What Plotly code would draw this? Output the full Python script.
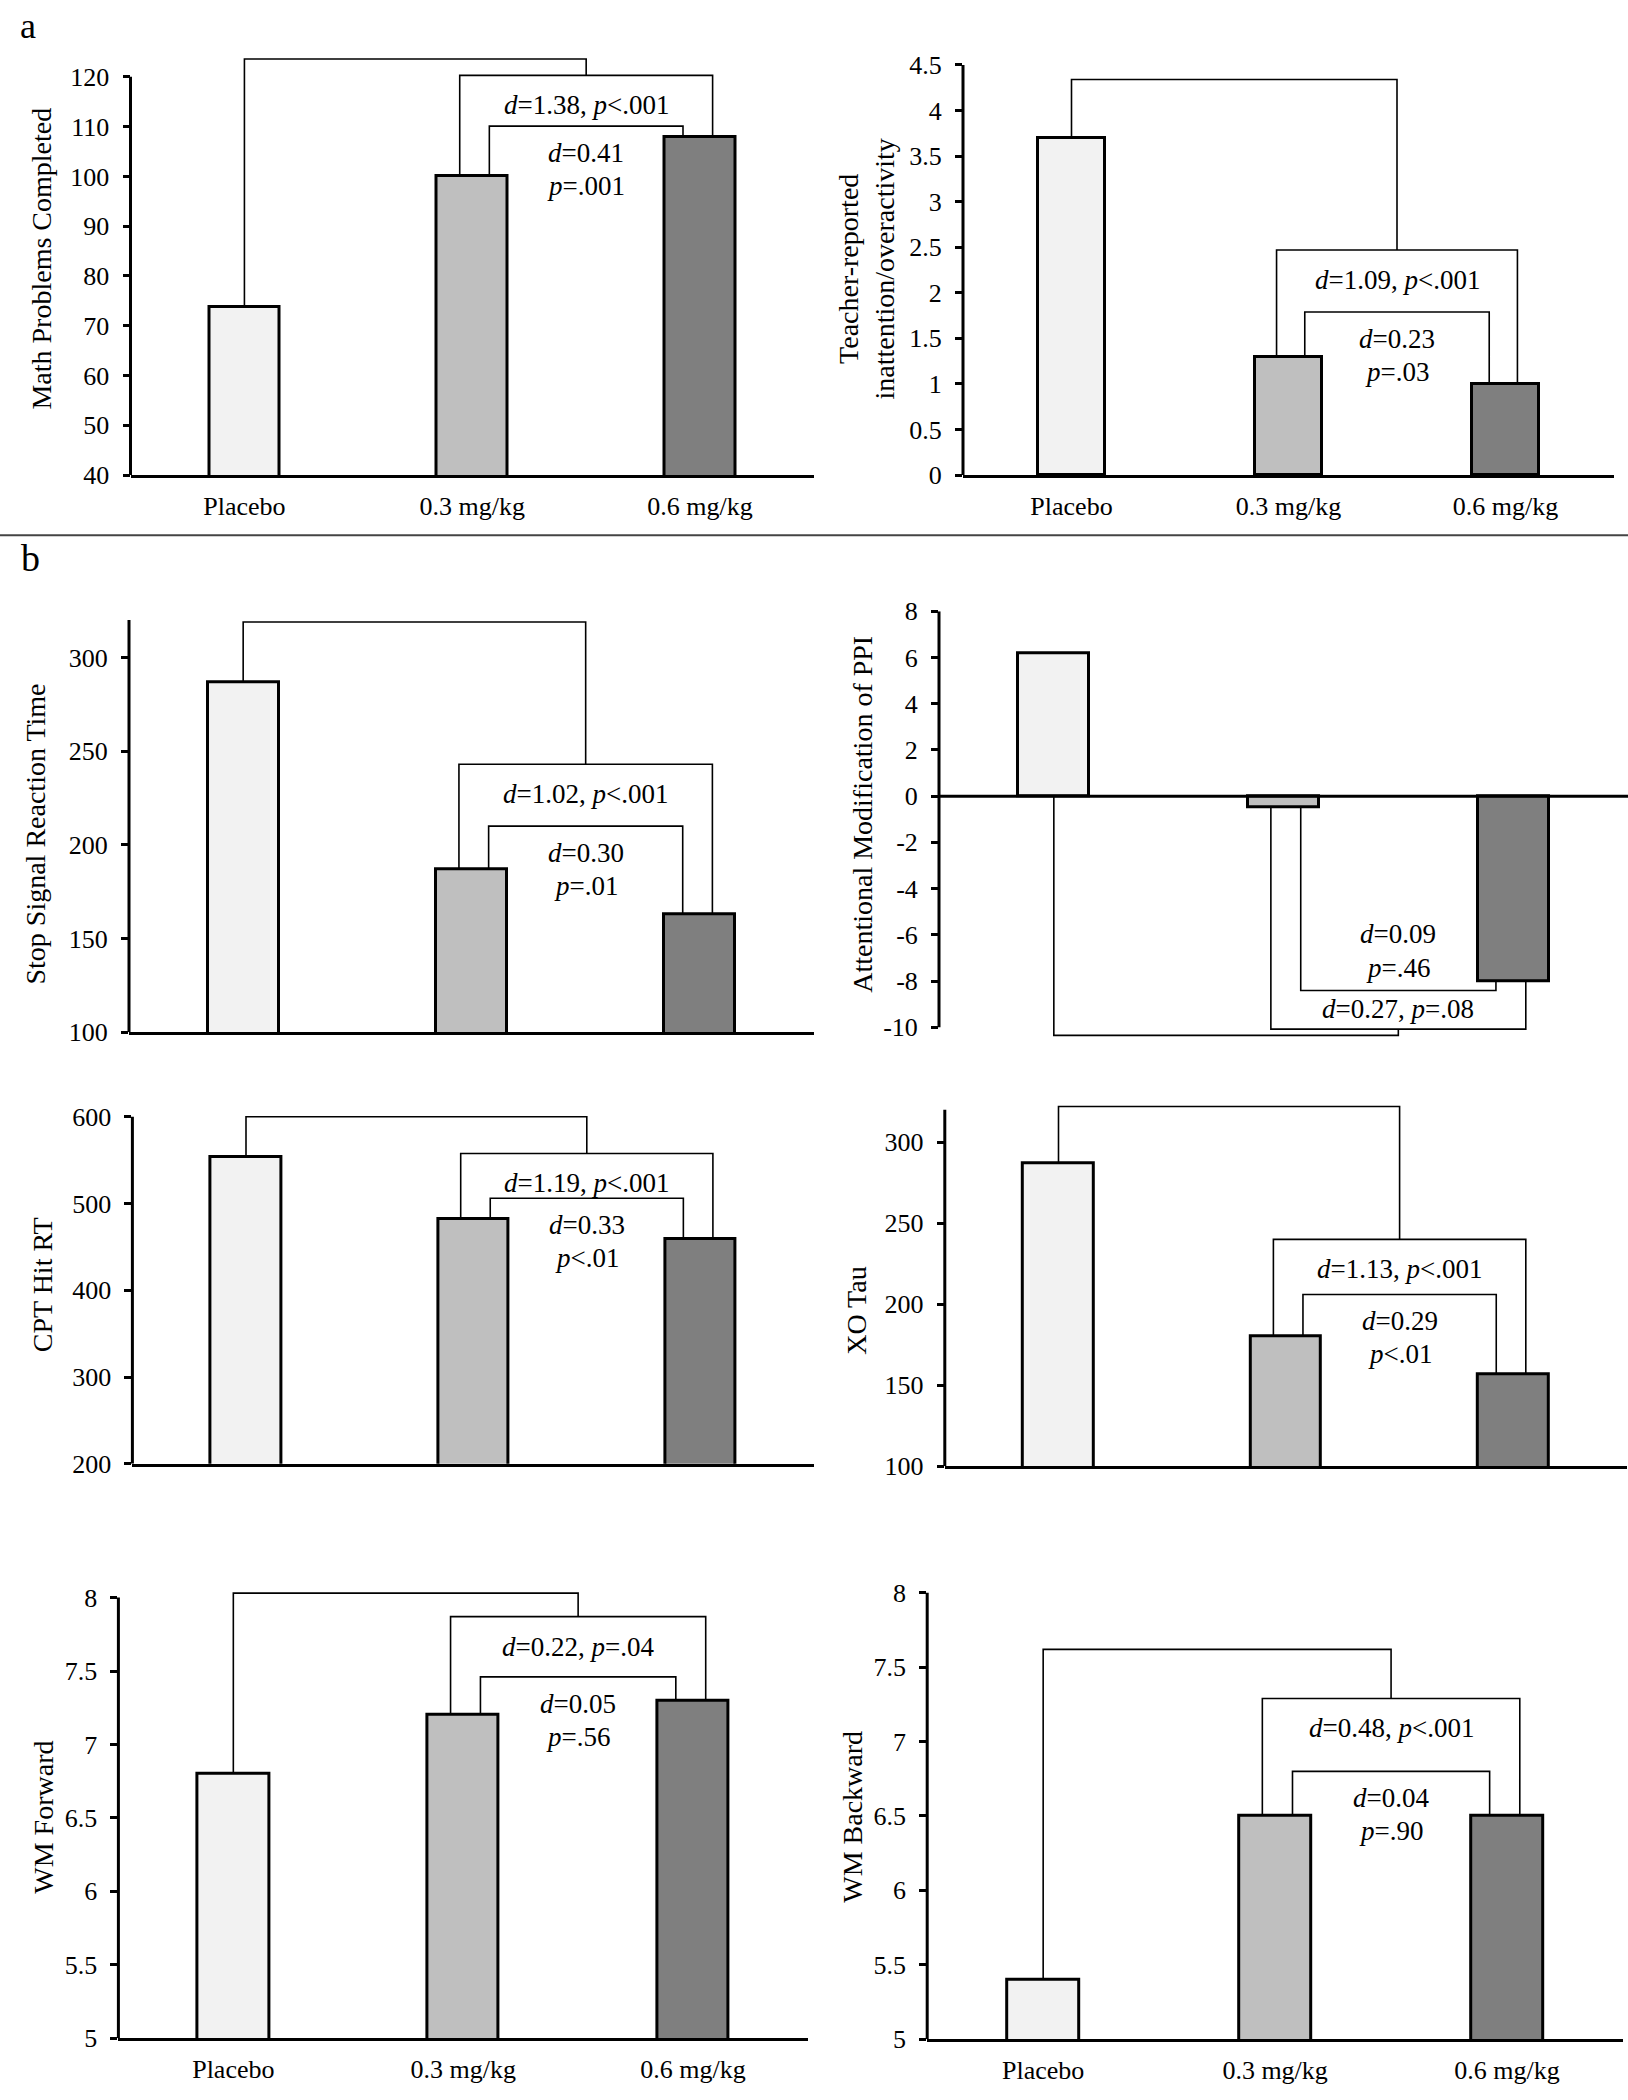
import plotly.graph_objects as go

W, H = 1628, 2100
FONT = "Liberation Serif"

# ---------------- data ----------------
categories = ["Placebo", "0.3 mg/kg", "0.6 mg/kg"]
bar_colors = ["#f2f2f2", "#bfbfbf", "#7f7f7f"]

math_problems = [73.7, 100, 108]
teacher_rating = [3.7, 1.3, 1.0]
ssrt = [287, 187, 163]
ppi_mod = [6.2, -0.5, -8.0]
cpt_hit_rt = [554, 482, 459]
xo_tau = [287, 180, 157]
wm_forward = [6.8, 7.2, 7.3]
wm_backward = [5.4, 6.5, 6.5]

# bracket levels: [placebo-vs-active, 0.3-vs-0.6 outer, inner]
math_brackets = [123.6, 120.3, 110.1]
teacher_brackets = [4.34, 2.47, 1.79]
ssrt_brackets = [319, 243, 210]
ppi_brackets = [-10.35, -10.08, -8.41]
cpt_brackets = [600, 557.6, 506]
xo_brackets = [322, 240, 206]
wmf_brackets = [8.03, 7.87, 7.46]
wmb_brackets = [7.62, 7.29, 6.8]

math_stats = ["<i>d</i>=1.38, <i>p</i>&lt;.001", "<i>d</i>=0.41", "<i>p</i>=.001"]
teacher_stats = ["<i>d</i>=1.09, <i>p</i>&lt;.001", "<i>d</i>=0.23", "<i>p</i>=.03"]
ssrt_stats = ["<i>d</i>=1.02, <i>p</i>&lt;.001", "<i>d</i>=0.30", "<i>p</i>=.01"]
ppi_stats = ["<i>d</i>=0.27, <i>p</i>=.08", "<i>d</i>=0.09", "<i>p</i>=.46"]
cpt_stats = ["<i>d</i>=1.19, <i>p</i>&lt;.001", "<i>d</i>=0.33", "<i>p</i>&lt;.01"]
xo_stats = ["<i>d</i>=1.13, <i>p</i>&lt;.001", "<i>d</i>=0.29", "<i>p</i>&lt;.01"]
wmf_stats = ["<i>d</i>=0.22, <i>p</i>=.04", "<i>d</i>=0.05", "<i>p</i>=.56"]
wmb_stats = ["<i>d</i>=0.48, <i>p</i>&lt;.001", "<i>d</i>=0.04", "<i>p</i>=.90"]

math_ticks = [40, 50, 60, 70, 80, 90, 100, 110, 120]
teacher_ticks = [0, 0.5, 1, 1.5, 2, 2.5, 3, 3.5, 4, 4.5]
ssrt_ticks = [100, 150, 200, 250, 300]
ppi_ticks = [-10, -8, -6, -4, -2, 0, 2, 4, 6, 8]
cpt_ticks = [200, 300, 400, 500, 600]
xo_ticks = [100, 150, 200, 250, 300]
wm_ticks = [5, 5.5, 6, 6.5, 7, 7.5, 8]

# ---------------- layout (pixel geometry) ----------------
panels = [
    dict(vals=math_problems, br=math_brackets, st=math_stats, ticks=math_ticks,
         title="Math Problems Completed", rng=[40, 125], axis=[40, 120],
         xpx=[130.5, 814], ypx=[38.5, 467.5], tpos=(42, 248), cat=True, inv=False),
    dict(vals=teacher_rating, br=teacher_brackets, st=teacher_stats, ticks=teacher_ticks,
         title="Teacher-reported<br>inattention/overactivity", rng=[0, 4.5], axis=[0, 4.5],
         xpx=[963, 1614], ypx=[51.7, 467.5], tpos=(866, 259), cat=True, inv=False),
    dict(vals=ssrt, br=ssrt_brackets, st=ssrt_stats, ticks=ssrt_ticks,
         title="Stop Signal Reaction Time", rng=[100, 321], axis=[100, 320],
         xpx=[129, 814], ypx=[612.7, 1032.4], tpos=(36, 832), cat=False, inv=False),
    dict(vals=ppi_mod, br=ppi_brackets, st=ppi_stats, ticks=ppi_ticks,
         title="Attentional Modification of PPI", rng=[-10.6, 8], axis=[-10, 8],
         xpx=[939, 1628], ypx=[605.6, 1041.5], tpos=(863, 812), cat=False, inv=True),
    dict(vals=cpt_hit_rt, br=cpt_brackets, st=cpt_stats, ticks=cpt_ticks,
         title="CPT Hit RT", rng=[200, 603], axis=[200, 600],
         xpx=[132.4, 814], ypx=[1115.5, 1470.1], tpos=(42, 1289), cat=False, inv=False),
    dict(vals=xo_tau, br=xo_brackets, st=xo_stats, ticks=xo_ticks,
         title="XO Tau", rng=[100, 324], axis=[100, 320],
         xpx=[944.8, 1627], ypx=[1104.5, 1472.5], tpos=(857, 1315), cat=False, inv=False),
    dict(vals=wm_forward, br=wmf_brackets, st=wmf_stats, ticks=wm_ticks,
         title="WM Forward", rng=[5, 8.06], axis=[5, 8],
         xpx=[118.4, 808], ypx=[1596.8, 2052.6], tpos=(44, 1829), cat=True, inv=False),
    dict(vals=wm_backward, br=wmb_brackets, st=wmb_stats, ticks=wm_ticks,
         title="WM Backward", rng=[5, 8.02], axis=[5, 8],
         xpx=[927.2, 1623], ypx=[1597.9, 2053.5], tpos=(853, 1828), cat=True, inv=False),
]

OUT_L, OUT_R = 0.055, 0.055   # outer bracket leg offsets
IN_L, IN_R = 0.075, 0.075     # inner bracket leg offsets
TXT = 27

fig = go.Figure()
layout = dict(width=W, height=H, margin=dict(l=0, r=0, t=0, b=0),
              paper_bgcolor="white", plot_bgcolor="white", showlegend=False,
              font=dict(family=FONT, size=26, color="black"), bargap=0)
annotations = []
shapes = []

for i, p in enumerate(panels):
    n = i + 1
    sfx = "" if n == 1 else str(n)
    xa, ya = "x" + sfx, "y" + sfx
    xs = [0, 1, 2]
    fig.add_trace(go.Bar(x=xs, y=p["vals"], width=0.31, xaxis=xa, yaxis=ya,
                         marker=dict(color=bar_colors, line=dict(color="black", width=3)),
                         hoverinfo="skip"))
    inv = p["inv"]
    a = [min(v, 0) for v in p["vals"]] if inv else list(p["vals"])
    top, outer, inner = p["br"]
    bx, by = [], []
    bx += [0, 0, 1.5, 1.5, None]; by += [a[0], top, top, outer, None]
    bx += [1 - OUT_L, 1 - OUT_L, 2 + OUT_R, 2 + OUT_R, None]; by += [a[1], outer, outer, a[2], None]
    bx += [1 + IN_L, 1 + IN_L, 2 - IN_R, 2 - IN_R, None]; by += [a[1], inner, inner, a[2], None]
    fig.add_trace(go.Scatter(x=bx, y=by, mode="lines", xaxis=xa, yaxis=ya,
                             line=dict(color="black", width=1.6), hoverinfo="skip"))

    x0, x1 = p["xpx"]
    yt, yb = p["ypx"]
    layout["xaxis" + sfx] = dict(domain=[x0 / W, x1 / W], range=[-0.5, 2.5], anchor=ya,
                                 tickvals=xs, ticktext=categories, showticklabels=p["cat"],
                                 ticks="", showgrid=False, zeroline=False,
                                 showline=not inv, linecolor="black", linewidth=3,
                                 ticklabelstandoff=6, fixedrange=True,
                                 tickfont=dict(family=FONT, size=26))
    layout["yaxis" + sfx] = dict(domain=[1 - yb / H, 1 - yt / H], range=p["rng"], anchor=xa,
                                 tickvals=p["ticks"], ticktext=[f"{t:g}" for t in p["ticks"]],
                                 ticks="outside", ticklen=7, tickwidth=2.5, tickcolor="black",
                                 showgrid=False, zeroline=False, showline=False,
                                 ticklabelstandoff=8, fixedrange=True,
                                 tickfont=dict(family=FONT, size=26))
    # y axis line
    shapes.append(dict(type="line", xref=xa + " domain", yref=ya, x0=0, x1=0,
                       y0=p["axis"][0], y1=p["axis"][1], line=dict(color="black", width=3)))
    if inv:
        shapes.append(dict(type="line", xref=xa + " domain", yref=ya, x0=0, x1=1,
                           y0=0, y1=0, line=dict(color="black", width=3)))
    # stats labels
    if inv:
        offs = [(outer, 20, p["st"][0]), (inner, 57, p["st"][1]), (inner, 23, p["st"][2])]
    else:
        offs = [(outer, -30, p["st"][0]), (inner, -27, p["st"][1]), (inner, -60, p["st"][2])]
    for yv, sh, t in offs:
        annotations.append(dict(x=1.5, y=yv, xref=xa, yref=ya, text=t, showarrow=False,
                                yshift=sh, font=dict(family=FONT, size=TXT, color="black"),
                                xanchor="center", yanchor="middle"))
    # axis title
    tx, ty = p["tpos"]
    annotations.append(dict(x=tx / W, y=1 - ty / H, xref="paper", yref="paper", text=p["title"],
                            showarrow=False, textangle=-90, xanchor="center", yanchor="middle",
                            font=dict(family=FONT, size=28, color="black")))

# panel letters and divider
annotations.append(dict(x=28 / W, y=1 - 12 / H, xref="paper", yref="paper", text="a",
                        showarrow=False, font=dict(family=FONT, size=36, color="black"),
                        xanchor="center", yanchor="middle"))
annotations.append(dict(x=30 / W, y=1 - 552 / H, xref="paper", yref="paper", text="b",
                        showarrow=False, font=dict(family=FONT, size=38, color="black"),
                        xanchor="center", yanchor="middle"))
shapes.append(dict(type="line", xref="paper", yref="paper", x0=0, x1=1,
                   y0=1 - 528.6 / H, y1=1 - 528.6 / H, line=dict(color="#444444", width=2)))

layout["annotations"] = annotations
layout["shapes"] = shapes
fig.update_layout(**layout)
fig.write_html("out.html", config={"displayModeBar": False},
               post_script="document.body.style.margin='0px';")
